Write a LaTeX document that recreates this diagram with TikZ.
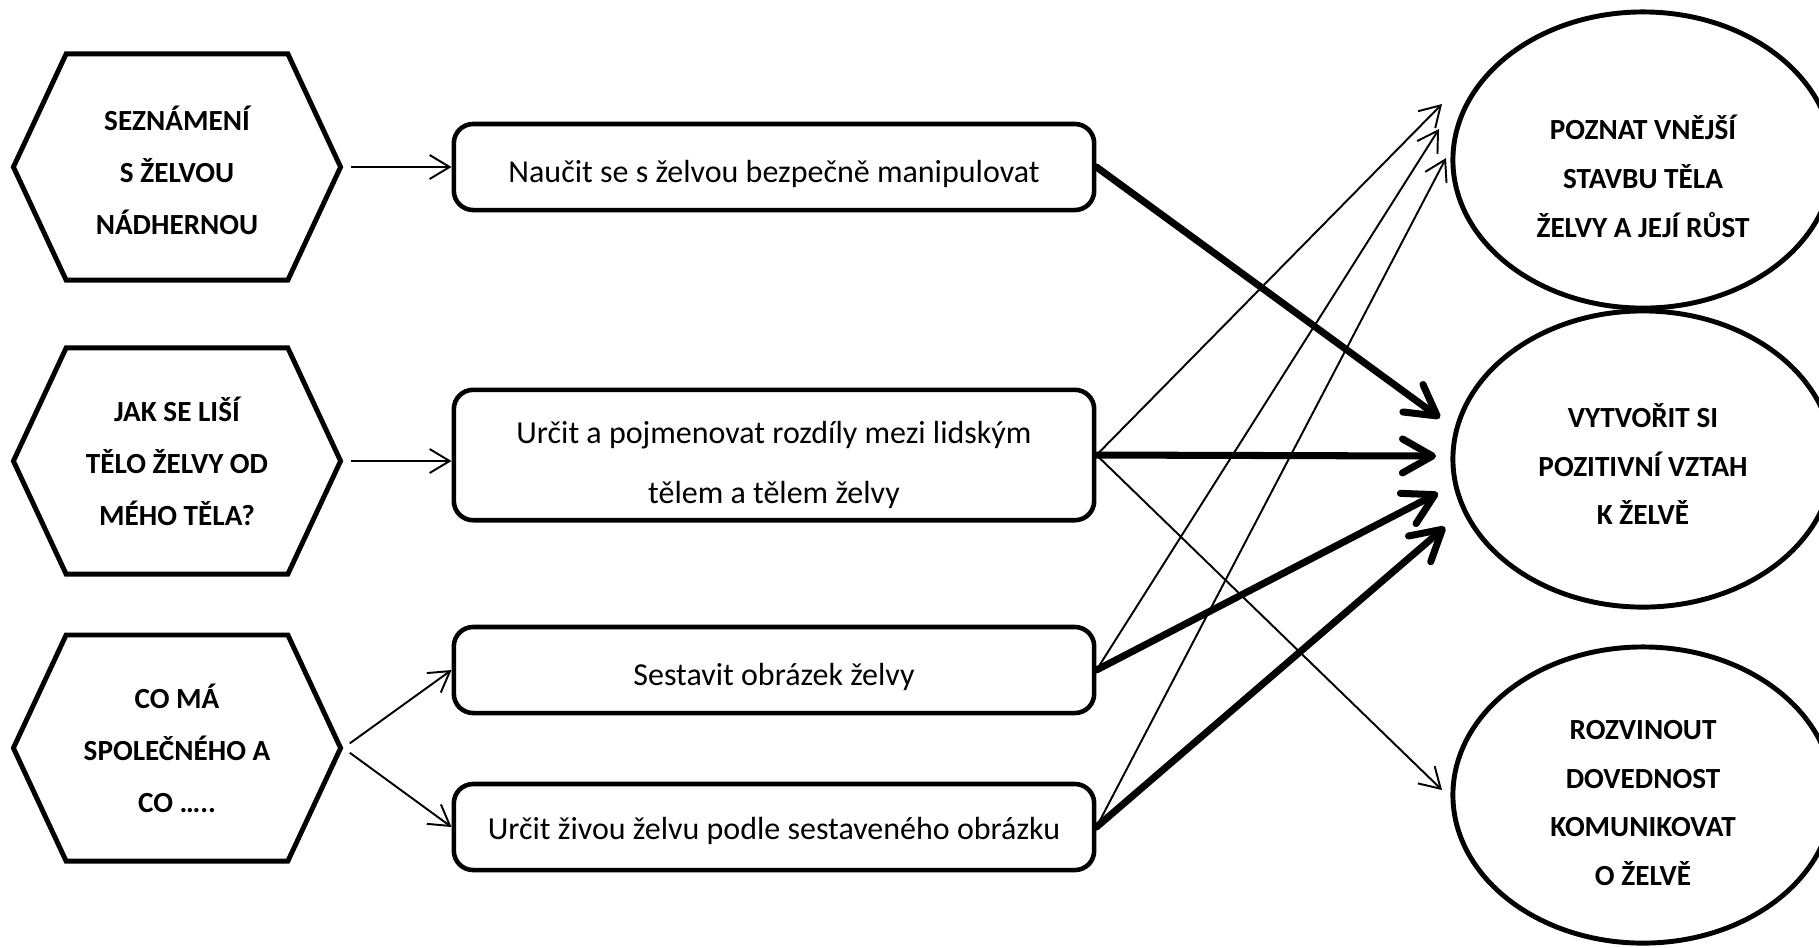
\documentclass[tikz,border=0pt]{standalone}
\usepackage{fontspec}
\setmainfont{Carlito}
\usepackage{tikz}
\usetikzlibrary{
    arrows.meta,
    positioning,
    shapes.geometric,
    shapes.symbols
}
\tikzset{
    arrow/.style={
        -{Straight Barb[length=2mm, width=2.4mm]},
        line width=0.55pt
    },
    arrowthick/.style={
        -{Straight Barb[length=3mm, width=3.4mm, round]},
        line width=2pt,
        line cap=round
    }
}
\newcommand{\lift}[1]{\rule{0pt}{#1}}

\begin{document}
\begin{tikzpicture}[
    x=0.01cm, y=-0.01cm,
    every node/.style={font=\fontsize{9.1}{17}\selectfont},
    hexa/.style={
        draw,
        shape=signal,
        signal to=west and east,
        signal pointer angle=130,
        line width=1.4pt,
        minimum width=3.27cm,
        minimum height=2.26cm,
        inner sep=0pt,
        align=center,
        font=\bfseries\fontsize{8.3}{14.8}\selectfont
    },
    box/.style={
        draw,
        rounded corners=5.5pt,
        line width=1.3pt,
        minimum width=6.4cm,
        minimum height=0.86cm,
        align=center
    },
    goal/.style={
        draw,
        ellipse,
        line width=1.4pt,
        minimum width=3.8cm,
        minimum height=2.96cm,
        inner sep=0pt,
        align=center,
        font=\bfseries\fontsize{8.3}{13.9}\selectfont
    }
]
\useasboundingbox (0,0) rectangle (1819,947);

% left: activities
\node[hexa] (h1) at (177,167) {\lift{0.32cm}SEZNÁMENÍ\\S ŽELVOU\\NÁDHERNOU};
\node[hexa] (h2) at (177,461) {JAK SE LIŠÍ\\TĚLO ŽELVY OD\\MÉHO TĚLA?};
\node[hexa] (h3) at (177,748) {CO MÁ\\SPOLEČNÉHO A\\CO …..};

% middle: tasks
\node[box] (b1) at (774,167) {\lift{0.36cm}Naučit se s želvou bezpečně manipulovat};
\node[box, minimum height=1.19cm] (b2) at (774,455) {\lift{0.42cm}Určit a pojmenovat rozdíly mezi lidským\\tělem a tělem želvy};
\node[box] (b3) at (774,670) {\lift{0.36cm}Sestavit obrázek želvy};
\node[box] (b4) at (774,827) {\lift{0.30cm}Určit živou želvu podle sestaveného obrázku};

% right: goals
\node[goal] (e1) at (1643,160) {\lift{0.57cm}POZNAT VNĚJŠÍ\\STAVBU TĚLA\\ŽELVY A JEJÍ RŮST};
\node[goal] (e2) at (1643,459) {\lift{0.34cm}VYTVOŘIT SI\\POZITIVNÍ VZTAH\\K ŽELVĚ};
\node[goal] (e3) at (1643,795) {\lift{0.35cm}ROZVINOUT\\DOVEDNOST\\KOMUNIKOVAT\\O ŽELVĚ};

\coordinate (t1) at (1442,104);
\coordinate (t2) at (1439,129);
\coordinate (t3) at (1446,158);
\coordinate (t4) at (1442,790);
\coordinate (k1) at (1440,418);
\coordinate (k2) at (1436,456);
\coordinate (k3) at (1438,493);
\coordinate (k4) at (1445,527);

\draw[arrow, shorten <=0.08cm] (h1.east) -- (b1.west);
\draw[arrow, shorten <=0.08cm] (h2.east) -- (h2.east -| b2.west);
\draw[arrow, shorten <=0.08cm] (h3.east) -- (b3.west);
\draw[arrow, shorten <=0.08cm] (h3.east) -- (b4.west);

\draw[arrow] (b2.east) -- (t1);
\draw[arrow] (b3.east) -- (t2);
\draw[arrow] (b4.east) -- (t3);
\draw[arrow] (b2.east) -- (t4);

\draw[arrowthick] (b1.east) -- (k1);
\draw[arrowthick] (b2.east) -- (k2);
\draw[arrowthick] (b3.east) -- (k3);
\draw[arrowthick] (b4.east) -- (k4);

\end{tikzpicture}
\end{document}
